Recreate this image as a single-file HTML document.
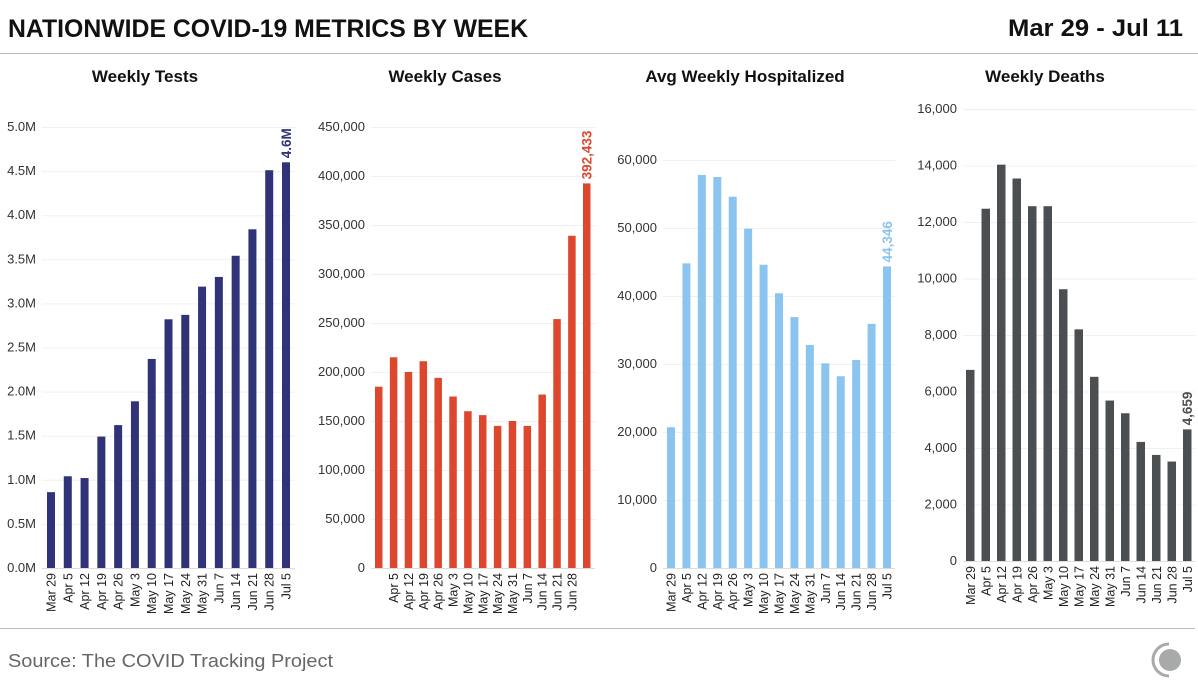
<!DOCTYPE html>
<html><head><meta charset="utf-8">
<style>
html,body{margin:0;padding:0;background:#fff;}
svg{display:block;font-family:"Liberation Sans",Arial,sans-serif;}
</style></head>
<body>
<svg id="chart" width="1198" height="688" viewBox="0 0 1198 688">
  <text x="8" y="37" font-size="25" font-weight="bold" fill="#111" textLength="520" lengthAdjust="spacingAndGlyphs">NATIONWIDE COVID-19 METRICS BY WEEK</text>
  <text x="1008" y="36" font-size="24" font-weight="bold" fill="#111" textLength="175" lengthAdjust="spacingAndGlyphs">Mar 29 - Jul 11</text>
  <line x1="0" y1="53.5" x2="1198" y2="53.5" stroke="#bbb" stroke-width="1"/>
  <line x1="0" y1="628.5" x2="1195" y2="628.5" stroke="#bbb" stroke-width="1"/>
  <text x="8" y="667" font-size="18" fill="#666" textLength="325" lengthAdjust="spacingAndGlyphs">Source: The COVID Tracking Project</text>
  <g>
    <path d="M1169 644 A16 16 0 0 0 1169 676" fill="none" stroke="#a7a9aa" stroke-width="3"/>
    <circle cx="1170" cy="660" r="11" fill="#a7a9aa"/>
  </g>
  <g id="panels"></g>
</svg>
<script>
const weeks = ["Mar 29","Apr 5","Apr 12","Apr 19","Apr 26","May 3","May 10","May 17","May 24","May 31","Jun 7","Jun 14","Jun 21","Jun 28","Jul 5"];
const testsValues = [0.86,1.04,1.02,1.49,1.62,1.89,2.37,2.82,2.87,3.19,3.30,3.54,3.84,4.51,4.60];
const casesValues = [185000,215000,200000,211000,194000,175000,160000,156000,145000,150000,145000,177000,254000,339000,392433];
const hospValues = [20700,44800,57800,57500,54600,49900,44600,40400,36900,32800,30100,28200,30600,35900,44346];
const deathsValues = [6765,12470,14030,13540,12560,12560,9620,8200,6520,5680,5230,4215,3755,3520,4659];
const testsTicks = [0,0.5,1,1.5,2,2.5,3,3.5,4,4.5,5];
const casesTicks = [0,50000,100000,150000,200000,250000,300000,350000,400000,450000];
const hospTicks = [0,10000,20000,30000,40000,50000,60000];
const deathsTicks = [0,2000,4000,6000,8000,10000,12000,14000,16000];
const casesLabels = ["","Apr 5","Apr 12","Apr 19","Apr 26","May 3","May 10","May 17","May 24","May 31","Jun 7","Jun 14","Jun 21","Jun 28",""];

const fmt = v => v.toLocaleString("en-US");
const panels = [
  {key:"tests",title:"Weekly Tests",titleX:145,values:testsValues,ticks:testsTicks,labels:weeks,color:"#313378",
   gx0:42,gx1:295,base:568,top:127,max:5,b0:47,b1:282,bw:8,tickFmt:v=>v.toFixed(1)+"M",lastLabel:"4.6M"},
  {key:"cases",title:"Weekly Cases",titleX:445,values:casesValues,ticks:casesTicks,labels:casesLabels,color:"#dc472e",
   gx0:371,gx1:595,base:568,top:127,max:450000,b0:375,b1:583,bw:7.5,tickFmt:fmt,lastLabel:"392,433"},
  {key:"hospitalized",title:"Avg Weekly Hospitalized",titleX:745,values:hospValues,ticks:hospTicks,labels:weeks,color:"#8cc4f0",
   gx0:663,gx1:895,base:568,top:160,max:60000,b0:667,b1:883,bw:8,tickFmt:fmt,lastLabel:"44,346"},
  {key:"deaths",title:"Weekly Deaths",titleX:1045,values:deathsValues,ticks:deathsTicks,labels:weeks,color:"#4b4f51",
   gx0:963,gx1:1195,base:561,top:109,max:16000,b0:966,b1:1183,bw:8.5,tickFmt:fmt,lastLabel:"4,659"}
];
const NS = "http://www.w3.org/2000/svg";
const root = document.getElementById("panels");
function mk(tag, attrs, parent){
  const e = document.createElementNS(NS, tag);
  for (const k in attrs) e.setAttribute(k, attrs[k]);
  parent.appendChild(e);
  return e;
}
panels.forEach(p => {
  const g = mk("g", {}, root);
  
  
  const y = v => p.base - (v / p.max) * (p.base - p.top);
  const step = (p.b1 - p.b0) / (p.values.length - 1);
  const x = i => p.b0 + i * step;
  const t = mk("text", {x:p.titleX, y:82, "font-size":17, "font-weight":"bold", fill:"#111", "text-anchor":"middle"}, g);
  t.textContent = p.title;
  
  
  p.ticks.forEach(tv => {
    const gl = mk("line", {x1:p.gx0, x2:p.gx1, y1:y(tv)+0.5, y2:y(tv)+0.5, stroke: tv===0 ? "#ddd" : "#f0f0f0", "stroke-width":1}, g);
    
    
    const tl = mk("text", {x:p.gx0-6, y:y(tv)+4, "font-size":13, fill:"#333", "text-anchor":"end"}, g);
    tl.textContent = p.tickFmt(tv);
    
    
  });
  p.values.forEach((v, i) => {
    const r = mk("rect", {x:x(i), y:y(v), width:p.bw, height:p.base - y(v), fill:p.color}, g);
    
    
    const lab = p.labels[i];
    if (lab) {
      const cx = x(i) + p.bw/2 + 4.5;
      const xl = mk("text", {x:cx, y:p.base+5, "font-size":12.5, fill:"#222", "text-anchor":"end", transform:`rotate(-90 ${cx} ${p.base+5})`}, g);
      xl.textContent = lab;
      
      
    }
  });
  const li = p.values.length - 1;
  const lx = x(li) + p.bw/2 + 5, ly = y(p.values[li]) - 4;
  const vl = mk("text", {x:lx, y:ly, "font-size":13.5, "font-weight":"bold", fill:p.color, transform:`rotate(-90 ${lx} ${ly})`}, g);
  vl.textContent = p.lastLabel;
  
  
});
</script>
</body></html>
